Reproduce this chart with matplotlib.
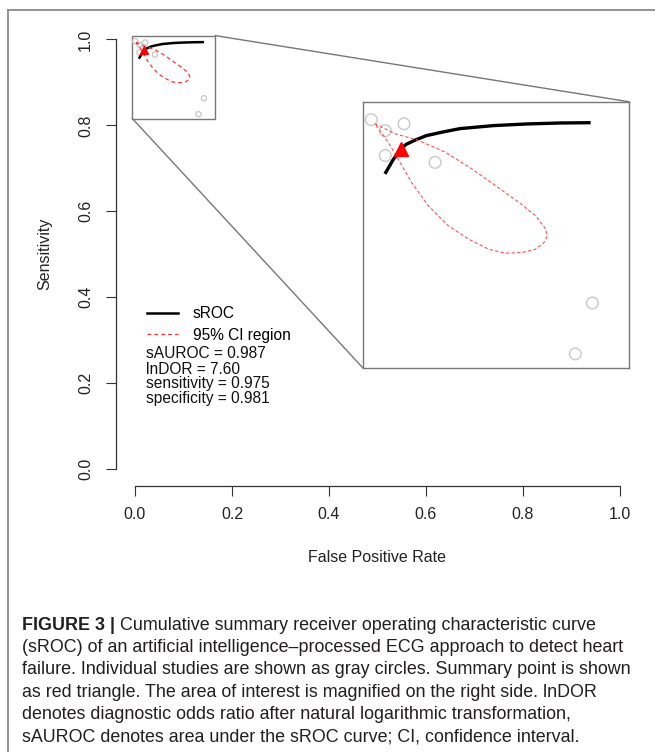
import numpy as np
import matplotlib
matplotlib.use("Agg")
import matplotlib.pyplot as plt
from matplotlib.lines import Line2D
from matplotlib.patches import Rectangle

plt.rcParams['font.family'] = ['Liberation Sans', 'DejaVu Sans']

#--data--#
study_fpr = [0.000, 0.009, 0.021, 0.009, 0.041, 0.142, 0.131]
study_sens = [0.996, 0.988, 0.993, 0.970, 0.965, 0.863, 0.826]

summary_fpr = [0.019]
summary_sens = [0.975]

sroc_fpr = [0.0093, 0.0138, 0.0185, 0.0224, 0.0278, 0.0353, 0.0461,
            0.0569, 0.0784, 0.1000, 0.1215, 0.1398]
sroc_sens = [0.9577, 0.9665, 0.9743, 0.9781, 0.9810, 0.9844, 0.9871,
             0.9895, 0.9917, 0.9929, 0.9936, 0.9938]

ci_fpr = [0.0022, 0.0151, 0.0302, 0.0474, 0.0646, 0.0797, 0.0948, 0.1055,
          0.1120, 0.1131, 0.1109, 0.1055, 0.0969, 0.0861, 0.0754, 0.0625,
          0.0495, 0.0366, 0.0258, 0.0172, 0.0108, 0.0054, 0.0022]
ci_sens = [0.9931, 0.9859, 0.9810, 0.9725, 0.9603, 0.9482, 0.9360, 0.9263,
           0.9166, 0.9117, 0.9069, 0.9020, 0.8996, 0.8991, 0.9020, 0.9093,
           0.9190, 0.9336, 0.9506, 0.9676, 0.9798, 0.9883, 0.9931]

ticks = [0.0, 0.2, 0.4, 0.6, 0.8, 1.0]
tick_labels = ["0.0", "0.2", "0.4", "0.6", "0.8", "1.0"]

stats = ["sAUROC = 0.987", "lnDOR = 7.60", "sensitivity = 0.975", "specificity = 0.981"]

caption_head = "FIGURE 3 |"
caption_lines = [
    "Cumulative summary receiver operating characteristic curve",
    "(sROC) of an artificial intelligence\u2013processed ECG approach to detect heart",
    "failure. Individual studies are shown as gray circles. Summary point is shown",
    "as red triangle. The area of interest is magnified on the right side. lnDOR",
    "denotes diagnostic odds ratio after natural logarithmic transformation,",
    "sAUROC denotes area under the sROC curve; CI, confidence interval.",
]

# zoom window and magnified box (data coords of main plot)
zoom_x = (-0.0055, 0.1655)
zoom_y = (0.816, 1.009)
mag_box = (0.4695, 0.2358, 0.5491, 0.6192)

W, H = 655, 752
def fx(px):
    return px / W
def fy(py):
    return 1 - py / H

fig = plt.figure(figsize=(W / 100, H / 100), dpi=100)
ax = fig.add_axes([fx(115.6), fy(486.2), 523.8 / W, 463.9 / H])

# outer frame of the figure panel
fig.add_artist(Line2D([fx(8), fx(8)], [fy(10), 0], color='#8a8a8a', lw=1.3,
                      transform=fig.transFigure))
fig.add_artist(Line2D([fx(8), 1], [fy(10), fy(10)], color='#8a8a8a', lw=1.3,
                      transform=fig.transFigure))

#--main plot--#
ax.scatter(study_fpr, study_sens, s=14, facecolors='none', edgecolors='#c0c0c0',
           linewidths=0.8, zorder=2)
ax.plot(sroc_fpr, sroc_sens, color='black', lw=1.8, zorder=3)
ax.plot(ci_fpr, ci_sens, color='#ff3030', lw=0.9, ls=(0, (3, 2.5)), zorder=4)
ax.plot(summary_fpr, summary_sens, marker='^', color='red', ms=5.5, ls='none', zorder=5)

ax.set_xlim(-0.04, 1.04)
ax.set_ylim(-0.04, 1.04)
ax.set_xticks(ticks)
ax.set_xticklabels(tick_labels)
ax.set_yticks(ticks)
ax.set_yticklabels(tick_labels, rotation=90, va='center')
for s in ['top', 'right']:
    ax.spines[s].set_visible(False)
for s in ['left', 'bottom']:
    ax.spines[s].set_bounds(0, 1)
    ax.spines[s].set_color('#333333')
    ax.spines[s].set_linewidth(0.9)
ax.tick_params(length=7.2, width=0.8, color='#333333', labelsize=11.5,
               labelcolor='#222222')
ax.tick_params(axis='x', pad=8)
ax.tick_params(axis='y', pad=9)
ax.patch.set_visible(False)

# zoom window and connectors
ax.add_patch(Rectangle((zoom_x[0], zoom_y[0]), zoom_x[1] - zoom_x[0],
                       zoom_y[1] - zoom_y[0], fill=False, ec='#777777', lw=1.0))
ax.plot([zoom_x[1], mag_box[0] + mag_box[2]], [zoom_y[1], mag_box[1] + mag_box[3]],
        color='#777777', lw=1.0, clip_on=False)
ax.plot([zoom_x[0], mag_box[0]], [zoom_y[0], mag_box[1]],
        color='#777777', lw=1.0, clip_on=False)

#--magnified view--#
ins = ax.inset_axes(mag_box, transform=ax.transData)
ins.scatter(study_fpr, study_sens, s=70, facecolors='none', edgecolors='#c8c8c8',
            linewidths=1.0, zorder=2)
ins.plot(sroc_fpr, sroc_sens, color='black', lw=2.4, zorder=3)
ins.plot(ci_fpr, ci_sens, color='#ff5050', lw=0.8, ls=(0, (3, 2)), zorder=4)
ins.plot(summary_fpr, summary_sens, marker='^', color='red', ms=10, ls='none', zorder=5)
ins.set_xlim(zoom_x)
ins.set_ylim(zoom_y)
ins.set_xticks([])
ins.set_yticks([])
for s in ins.spines.values():
    s.set_color('#777777')
    s.set_linewidth(1.0)

#--legend and stats--#
handles = [Line2D([], [], color='black', lw=1.8),
           Line2D([], [], color='#ff3030', lw=0.9, ls=(0, (3, 2.5)))]
ax.legend(handles, ["sROC", "95% CI region"], loc='upper left',
          bbox_to_anchor=(fx(146.7), fy(306)), bbox_transform=fig.transFigure,
          frameon=False, fontsize=11.2, handlelength=2.0, handletextpad=0.95,
          labelspacing=0.42, borderpad=0, borderaxespad=0)
for i, line in enumerate(stats):
    fig.text(fx(145.7), fy(354 + 15 * i), line, fontsize=11.2, va='center',
             ha='left', color='#111111')

# axis titles
fig.text(fx(45), fy(254), "Sensitivity", rotation=90, fontsize=11.5,
         ha='center', va='center', color='#222222')
fig.text(fx(377.5), fy(558), "False Positive Rate", fontsize=11.5,
         ha='center', va='center', color='#222222')

#--caption--#
cap_col = '#231f20'
cap_size = 12.9
head = fig.text(fx(22), fy(625), caption_head, fontsize=cap_size, weight='bold',
                va='center', ha='left', color=cap_col)
renderer = fig.canvas.get_renderer()
bb = head.get_window_extent(renderer)
fig.text((bb.x1 + 5) / W, fy(625), caption_lines[0], fontsize=cap_size,
         va='center', ha='left', color=cap_col)
for i, line in enumerate(caption_lines[1:]):
    fig.text(fx(22), fy(625 + 22.4 * (i + 1)), line, fontsize=cap_size,
             va='center', ha='left', color=cap_col)

fig.savefig("out.png", dpi=100)
